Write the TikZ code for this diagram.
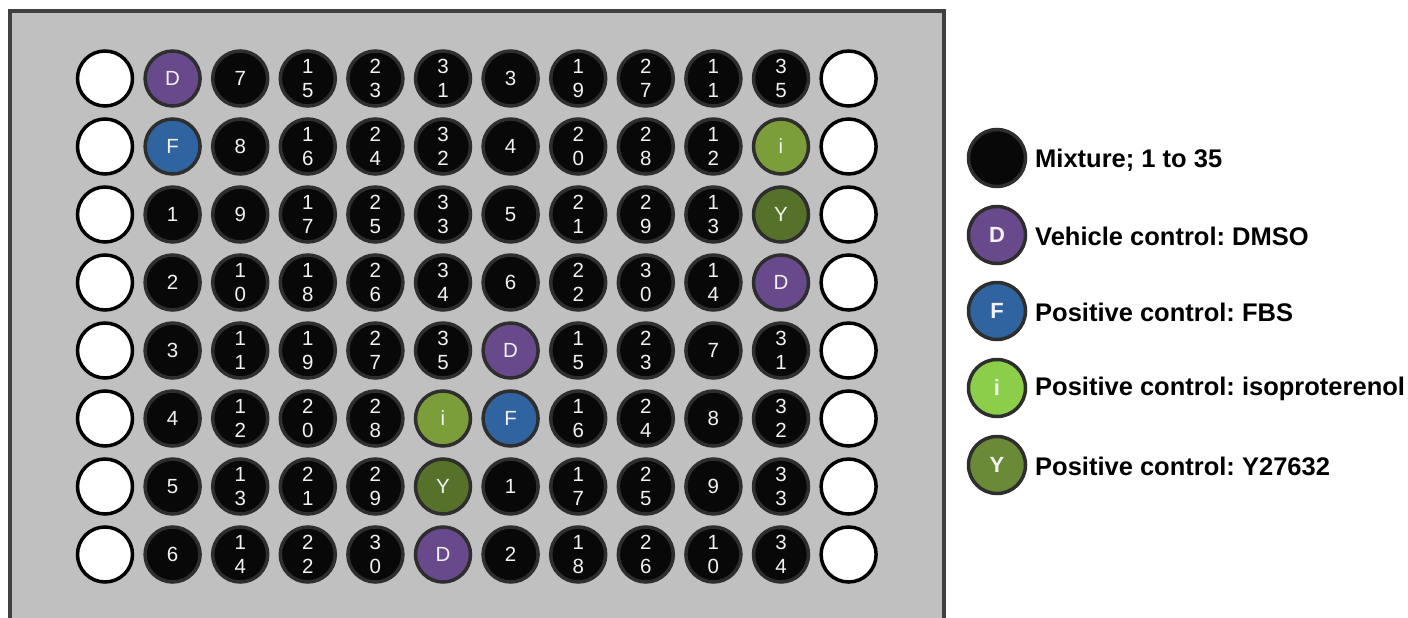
\documentclass[tikz,border=0pt]{standalone}
\usepackage{fontspec}
\setmainfont{Liberation Sans}
\definecolor{plategray}{HTML}{C0C0C0}
\definecolor{plateedge}{HTML}{404040}
\definecolor{wellblack}{HTML}{080808}
\definecolor{wellring}{HTML}{2E2E2E}
\definecolor{cD}{HTML}{684A8C}
\definecolor{cF}{HTML}{2F64A0}
\definecolor{ci}{HTML}{7C9E3A}
\definecolor{cY}{HTML}{56722A}
\definecolor{Li}{HTML}{8CCD4A}
\definecolor{LY}{HTML}{6A8A38}
\definecolor{txt}{HTML}{F2F2F2}
\tikzset{
  well/.style={circle, minimum size=55pt, inner sep=0pt, line width=3.5pt},
  ew/.style={well, draw=black, fill=white},
  mw/.style={well, draw=wellring, fill=wellblack, text=txt,
     font=\fontsize{20.5}{23.5}\selectfont, align=center},
  dw/.style={mw, fill=cD},
  fw/.style={mw, fill=cF},
  iw/.style={mw, fill=ci},
  yw/.style={mw, fill=cY},
  legwell/.style={circle, minimum size=57pt, inner sep=0pt, line width=3.5pt,
     draw=wellring, text=txt, font=\fontsize{22}{24}\selectfont\bfseries},
  legtext/.style={anchor=west, inner sep=0pt, font=\fontsize{25.5}{30}\selectfont\bfseries}
}
\begin{document}
\begin{tikzpicture}[x=1pt,y=-1pt]
\useasboundingbox (0,0) rectangle (1408,618);
\fill[plategray] (9.5,11) rectangle (944,640);
\draw[plateedge, line width=4pt] (9.5,640) -- (9.5,11) -- (944,11) -- (944,640);
% plate wells: row / column / style / label
\foreach \r/\lst in {
 1/{ew/{},dw/D,mw/7,mw/{1\\5},mw/{2\\3},mw/{3\\1},mw/3,mw/{1\\9},mw/{2\\7},mw/{1\\1},mw/{3\\5},ew/{}},
 2/{ew/{},fw/F,mw/8,mw/{1\\6},mw/{2\\4},mw/{3\\2},mw/4,mw/{2\\0},mw/{2\\8},mw/{1\\2},iw/i,ew/{}},
 3/{ew/{},mw/1,mw/9,mw/{1\\7},mw/{2\\5},mw/{3\\3},mw/5,mw/{2\\1},mw/{2\\9},mw/{1\\3},yw/Y,ew/{}},
 4/{ew/{},mw/2,mw/{1\\0},mw/{1\\8},mw/{2\\6},mw/{3\\4},mw/6,mw/{2\\2},mw/{3\\0},mw/{1\\4},dw/D,ew/{}},
 5/{ew/{},mw/3,mw/{1\\1},mw/{1\\9},mw/{2\\7},mw/{3\\5},dw/D,mw/{1\\5},mw/{2\\3},mw/7,mw/{3\\1},ew/{}},
 6/{ew/{},mw/4,mw/{1\\2},mw/{2\\0},mw/{2\\8},iw/i,fw/F,mw/{1\\6},mw/{2\\4},mw/8,mw/{3\\2},ew/{}},
 7/{ew/{},mw/5,mw/{1\\3},mw/{2\\1},mw/{2\\9},yw/Y,mw/1,mw/{1\\7},mw/{2\\5},mw/9,mw/{3\\3},ew/{}},
 8/{ew/{},mw/6,mw/{1\\4},mw/{2\\2},mw/{3\\0},dw/D,mw/2,mw/{1\\8},mw/{2\\6},mw/{1\\0},mw/{3\\4},ew/{}}}{
  \foreach \s/\t [count=\c] in \lst {
    \node[\s] (w-\r-\c) at ({105+(\c-1)*67.6},{78.5+(\r-1)*68}) {\t};
  }
}
% legend
\node[legwell, fill=wellblack] (lm) at (997,158) {};
\node[legwell, fill=cD] (ld) at (997,235) {D};
\node[legwell, fill=cF] (lf) at (997,311) {F};
\node[legwell, fill=Li] (li) at (997,388) {i};
\node[legwell, fill=LY] (ly) at (997,465) {Y};
\node[legtext] (tm) at (1035,160) {Mixture; 1 to 35};
\node[legtext] (td) at (1035,236) {Vehicle control:\ DMSO};
\node[legtext] (tf) at (1035,312) {Positive control:\ FBS};
\node[legtext] (ti) at (1035,389) {Positive control:\ isoproterenol};
\node[legtext] (ty) at (1035,466) {Positive control:\ Y27632};
\end{tikzpicture}
\end{document}
